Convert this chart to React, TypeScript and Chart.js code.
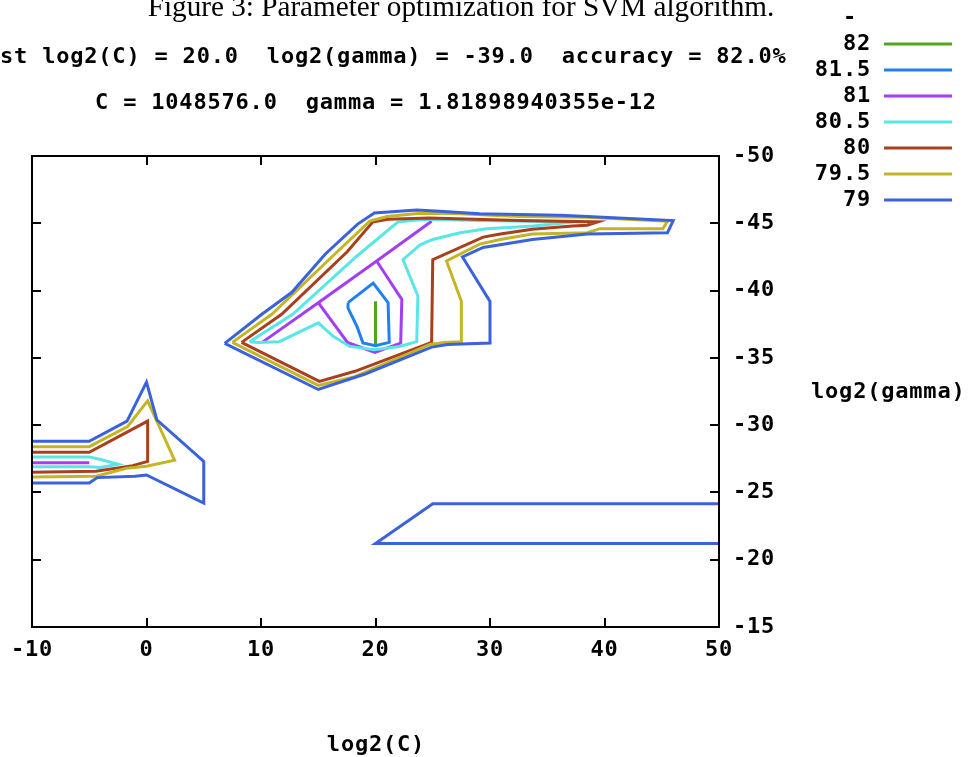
import { useEffect, useRef } from "react";
import { Chart, registerables } from "chart.js";

Chart.register(...registerables);

// ---- data ----
const xTicks = [-10, 0, 10, 20, 30, 40, 50];
const yTicks = [-50, -45, -40, -35, -30, -25, -20, -15];
const levels = ["82", "81.5", "81", "80.5", "80", "79.5", "79"];
const levelColors = ["#4fa81c", "#1f80f2", "#a23ef6", "#5ae6e6", "#a8401e", "#c4b526", "#3a62da"];

const titleSerif = "Figure 3: Parameter optimization for SVM algorithm.";
const titleBest = "st log2(C) = 20.0  log2(gamma) = -39.0  accuracy = 82.0%";
const titleParams = "C = 1048576.0  gamma = 1.81898940355e-12";
const xTitle = "log2(C)";
const yTitle = "log2(gamma)";
const keyHeader = "- ";

// contour 82
const c82 = [[20, -39.2], [20, -36]];
// contour 81.5
const c815 = [[17.6, -39.1], [19.8, -40.55], [21.1, -39.1], [21.2, -36.15], [20, -35.9], [18.9, -36.1], [18.4, -37.3], [17.6, -38.7], [17.6, -39.1]];
// contour 81
const c81a = [[24.9, -45.15], [20.1, -42.2], [15, -39.1], [10.1, -36.15]];
const c81b = [[20.1, -42.2], [22.3, -39.35], [22.2, -36.1], [19.95, -35.4], [17.55, -36.15], [15, -39.1]];
const c81c = [[-10, -27.2], [-5, -27.2]];
// contour 80.5
const c805a = [[9.0, -36.2], [12.77, -38.24], [18.36, -42.55], [21.94, -45.09], [24.3, -45.3], [29.1, -45.2], [37.25, -45.1], [33.75, -44.8], [29.7, -44.6], [27.4, -44.3], [25, -43.8], [23.9, -43.4], [22.4, -42.3], [23.7, -39.6], [23.6, -36.2], [22.1, -35.85], [19.9, -35.6], [17.75, -35.85], [16.3, -36.6], [15, -37.6], [11.6, -36.2], [9.7, -36.15], [9.0, -36.2]];
const c805b = [[-10, -27.64], [-5, -27.64], [-4, -27.45], [-2.5, -27.1], [-4, -26.85], [-5, -26.9], [-10, -26.9]];
// contour 80
const c80a = [[8.3, -36.15], [11.8, -38.24], [17.55, -42.9], [19.75, -45.09], [21.1, -45.3], [24.7, -45.4], [32.6, -45.2], [39.4, -45.1], [38.5, -44.86], [37.2, -44.8], [33.7, -44.56], [30.9, -44.2], [29.4, -43.97], [25, -42.3], [24.9, -36.15], [18.2, -34], [15.1, -33.25], [8.3, -36.15]];
const c80b = [[-10, -27.98], [-5, -27.98], [0.1, -30.3], [0.1, -27.3], [-1.2, -26.99], [-4.4, -26.57], [-10, -26.5]];
// contour 79.5
const c795a = [[7.5, -36.15], [10.94, -38.24], [16.43, -42.7], [19.5, -45.16], [21, -45.5], [23.9, -45.75], [27.4, -45.7], [32.6, -45.5], [38.5, -45.45], [45.5, -45.15], [45.1, -44.6], [39.6, -44.6], [38.5, -44.3], [33.7, -44.2], [30.9, -43.8], [29.1, -43.45], [26.2, -42.2], [27.5, -39.2], [27.5, -36.2], [26, -36.15], [24.75, -36.0], [18.2, -33.6], [15, -32.95], [7.5, -36.15]];
const c795b = [[-10, -28.4], [-5, -28.4], [-1.65, -29.9], [0.1, -31.8], [2.45, -27.4], [0, -26.95], [-1.75, -26.8], [-4.4, -26.2], [-10, -26.15]];
// contour 79
const c79a = [[6.83, -36.08], [10.07, -38.24], [12.7, -39.87], [15.6, -42.7], [18.44, -44.94], [19.9, -45.76], [23.6, -45.98], [25.6, -45.9], [29.1, -45.7], [36.1, -45.6], [38.5, -45.5], [46.0, -45.2], [45.5, -44.3], [38.5, -44.2], [33.7, -43.8], [30.9, -43.4], [29.4, -43.2], [27.6, -42.5], [30, -39.2], [30, -36.1], [26.3, -36], [24.9, -35.8], [19.1, -33.8], [15, -32.65], [6.83, -36.08]];
const c79b = [[-10, -28.8], [-5, -28.8], [-1.7, -30.3], [0, -33.2], [0.9, -30.4], [5, -27.3], [5, -24.2], [0, -26.3], [-1, -26.2], [-4.3, -26.1], [-5, -25.7], [-10, -25.7]];
const c79c = [[50, -24.15], [25, -24.15], [20, -21.2], [50, -21.2]];

// pieces: [level index, points]
const pieces: [number, number[][]][] = [
  [6, c79a], [6, c79b], [6, c79c],
  [5, c795a], [5, c795b],
  [4, c80a], [4, c80b],
  [3, c805a], [3, c805b],
  [2, c81a], [2, c81b], [2, c81c],
  [1, c815],
  [0, c82],
];

const MONO = '"DejaVu Sans Mono", "Liberation Mono", monospace';
const FS = 22;
const LS = "0.8px";

const decor = {
  id: "decor",
  beforeDraw(chart: any) {
    (chart.ctx as any).letterSpacing = LS;
  },
  afterDraw(chart: any) {
    const ctx = chart.ctx as CanvasRenderingContext2D & { letterSpacing: string };
    const { left, right, top, bottom } = chart.chartArea;
    const xs = chart.scales.x;
    const ys = chart.scales.y;
    ctx.save();
    // frame
    ctx.strokeStyle = "#000";
    ctx.lineWidth = 2;
    ctx.strokeRect(left, top, right - left, bottom - top);
    // inward ticks on all sides
    const tl = 9;
    ctx.beginPath();
    xTicks.forEach((v) => {
      const px = Math.round(xs.getPixelForValue(v));
      ctx.moveTo(px, bottom); ctx.lineTo(px, bottom - tl);
      ctx.moveTo(px, top); ctx.lineTo(px, top + tl);
    });
    yTicks.forEach((v) => {
      const py = Math.round(ys.getPixelForValue(v));
      ctx.moveTo(right, py); ctx.lineTo(right - tl, py);
      ctx.moveTo(left, py); ctx.lineTo(left + tl, py);
    });
    ctx.stroke();

    // serif figure caption (fit to width)
    ctx.letterSpacing = "0px";
    ctx.fillStyle = "#000";
    ctx.font = '100px "Liberation Serif", serif';
    const w100 = ctx.measureText(titleSerif).width;
    const fs = (627 / w100) * 100;
    ctx.font = `${fs}px "Liberation Serif", serif`;
    ctx.textAlign = "center";
    ctx.textBaseline = "alphabetic";
    ctx.fillText(titleSerif, 461, 16);

    // monospace texts
    ctx.letterSpacing = LS;
    ctx.font = `bold ${FS}px ${MONO}`;
    ctx.textBaseline = "middle";
    ctx.textAlign = "left";
    ctx.fillText(titleBest, 0, 57);
    ctx.textAlign = "center";
    ctx.fillText(titleParams, 376, 103);
    ctx.fillText(xTitle, 376, 745);
    ctx.textAlign = "left";
    ctx.fillText(yTitle, 811, 392);

    // key
    ctx.textAlign = "right";
    ctx.fillText(keyHeader, 871, 18);
    levels.forEach((lab, i) => {
      const y = 44 + i * 26;
      ctx.textAlign = "right";
      ctx.fillStyle = "#000";
      ctx.fillText(lab, 871, y);
      ctx.strokeStyle = levelColors[i];
      ctx.lineWidth = 3;
      ctx.beginPath();
      ctx.moveTo(884, y);
      ctx.lineTo(952, y);
      ctx.stroke();
    });
    ctx.restore();
  },
};

export default function App() {
  const ref = useRef<HTMLCanvasElement | null>(null);
  useEffect(() => {
    if (!ref.current) return;
    const datasets = pieces.map(([li, pts]) => ({
      label: levels[li],
      data: pts.map(([x, y]) => ({ x, y })),
      showLine: true,
      borderColor: levelColors[li],
      backgroundColor: levelColors[li],
      borderWidth: 3,
      pointRadius: 0,
      fill: false,
      tension: 0,
    }));
    const chart = new Chart(ref.current, {
      type: "scatter",
      data: { datasets },
      options: {
        animation: false,
        responsive: false,
        devicePixelRatio: 1,
        layout: { padding: { left: 32, top: 156, right: 0, bottom: 0 } },
        plugins: {
          legend: { display: false },
          tooltip: { enabled: false },
          title: { display: false },
        },
        scales: {
          x: {
            type: "linear",
            position: "bottom",
            min: -10,
            max: 50,
            grid: { display: false, drawTicks: false },
            border: { display: false },
            afterBuildTicks: (s: any) => { s.ticks = xTicks.map((v) => ({ value: v })); },
            afterFit: (s: any) => { s.height = 130; },
            ticks: {
              padding: 10,
              color: "#000",
              maxRotation: 0,
              autoSkip: false,
              font: { family: MONO, size: FS, weight: "bold" },
            },
          },
          y: {
            type: "linear",
            position: "right",
            reverse: true,
            min: -50,
            max: -15,
            grid: { display: false, drawTicks: false },
            border: { display: false },
            afterBuildTicks: (s: any) => { s.ticks = yTicks.map((v) => ({ value: v })); },
            afterFit: (s: any) => { s.width = 250; },
            ticks: {
              padding: 14,
              color: "#000",
              autoSkip: false,
              font: { family: MONO, size: FS, weight: "bold" },
            },
          },
        },
      } as any,
      plugins: [decor],
    });
    return () => chart.destroy();
  }, []);
  return (
    <div style={{ position: "fixed", left: 0, top: 0, width: 969, height: 757, background: "#fff" }}>
      <canvas ref={ref} width={969} height={757} style={{ display: "block" }} />
    </div>
  );
}
